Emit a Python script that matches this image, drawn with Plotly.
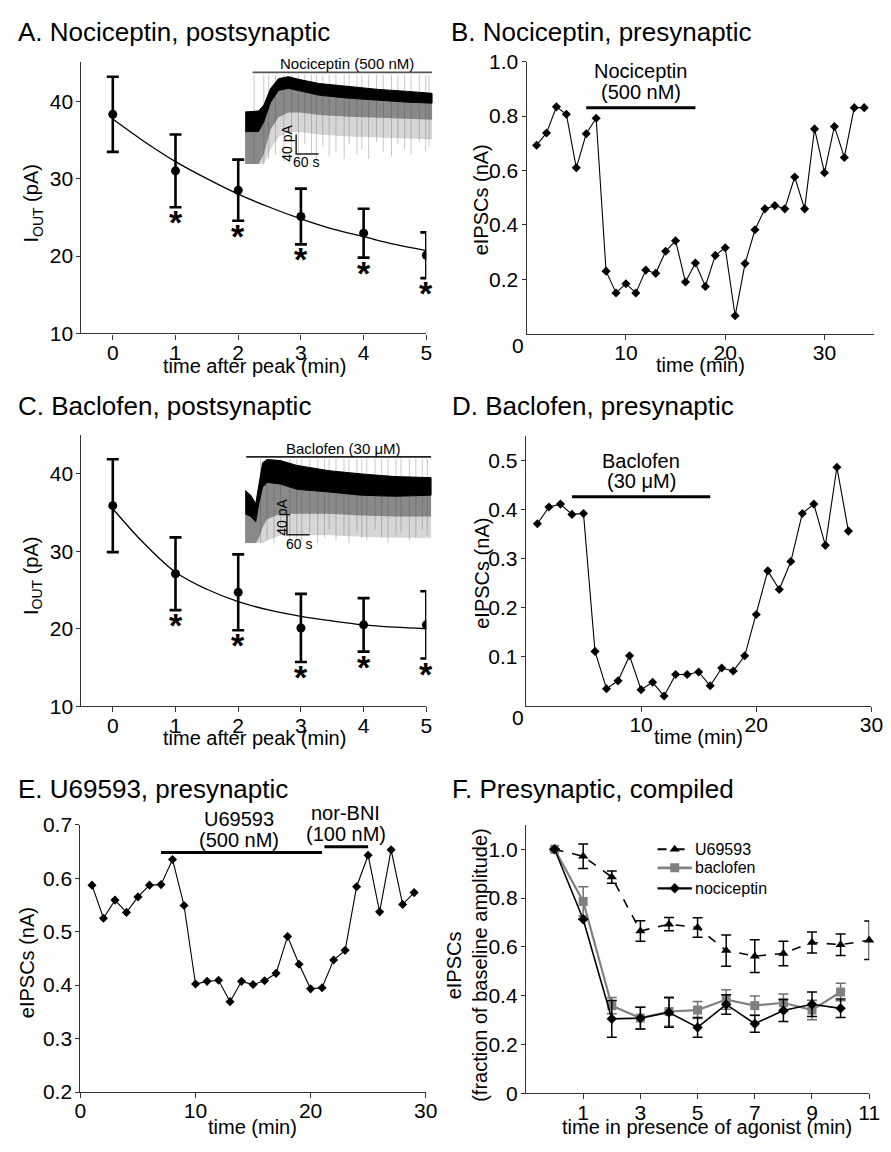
import plotly.graph_objects as go

W, H = 891, 1152
def fx(p): return min(max(p / W, 0), 1)
def fy(p): return min(max(1 - p / H, 0), 1)

FONT = "Liberation Sans, Arial, Helvetica, sans-serif"
AX = "#333333"

# ---------------- data ----------------
post_time = [0, 1, 2, 3, 4, 5]
a_iout = [38.3, 31.0, 28.5, 25.1, 22.95, 20.1]
a_err = [4.85, 4.7, 3.95, 3.6, 3.15, 2.95]
fit_time = [0, 0.5, 1, 1.5, 2, 2.5, 3, 3.5, 4, 4.5, 5]
a_fit = [37.7, 34.8, 32.2, 30.0, 28.0, 26.3, 24.8, 23.5, 22.5, 21.5, 20.7]
c_iout = [35.9, 27.1, 24.7, 20.1, 20.5, 20.5]
c_err = [6.0, 4.7, 4.9, 4.4, 3.45, 4.35]
c_fit = [35.5, 31.0, 27.3, 25.1, 23.5, 22.4, 21.6, 21.0, 20.5, 20.2, 20.0]
star_time = [1, 2, 3, 4, 5]

b_time = list(range(1, 35))
b_ipsc = [0.693, 0.738, 0.834, 0.807, 0.610, 0.735, 0.792, 0.230, 0.150, 0.184,
          0.150, 0.234, 0.222, 0.303, 0.342, 0.190, 0.260, 0.174, 0.288, 0.316,
          0.066, 0.258, 0.382, 0.459, 0.471, 0.459, 0.576, 0.459, 0.753, 0.592,
          0.762, 0.648, 0.831, 0.831]
b_drug = [6, 17]

d_time = list(range(1, 29))
d_ipsc = [0.371, 0.405, 0.411, 0.390, 0.392, 0.111, 0.035, 0.051, 0.102, 0.033,
          0.048, 0.020, 0.064, 0.064, 0.069, 0.041, 0.077, 0.071, 0.102, 0.186,
          0.275, 0.237, 0.294, 0.392, 0.411, 0.327, 0.486, 0.356]
d_drug = [4, 16]

e_time = list(range(1, 30))
e_ipsc = [0.587, 0.525, 0.559, 0.536, 0.565, 0.587, 0.588, 0.635, 0.549, 0.402,
          0.407, 0.409, 0.369, 0.407, 0.401, 0.408, 0.422, 0.491, 0.439, 0.393,
          0.395, 0.447, 0.465, 0.584, 0.643, 0.537, 0.653, 0.551, 0.573]
e_drug1 = [7, 21]
e_drug2 = [21.2, 25]

f_time = list(range(0, 12))
u_mean = [1.0, 0.971, 0.886, 0.665, 0.693, 0.679, 0.585, 0.562, 0.573, 0.618, 0.609, 0.627]
u_err = [0, 0.05, 0.025, 0.042, 0.027, 0.04, 0.064, 0.067, 0.05, 0.043, 0.044, 0.079]
bac_time = list(range(0, 11))
bac_mean = [1.0, 0.786, 0.359, 0.308, 0.335, 0.341, 0.384, 0.359, 0.371, 0.341, 0.415]
bac_err = [0, 0.06, 0.033, 0.045, 0.06, 0.035, 0.04, 0.04, 0.036, 0.04, 0.036]
noc_mean = [1.0, 0.713, 0.305, 0.308, 0.331, 0.270, 0.364, 0.285, 0.339, 0.365, 0.348]
noc_err = [0, 0.0, 0.075, 0.045, 0.06, 0.04, 0.04, 0.035, 0.045, 0.05, 0.038]
f_series = ["U69593", "baclofen", "nociceptin"]

# insets: recorded current traces (time in s, current in pA)
ia_t = [0, 36, 50, 68, 89, 115, 146, 198, 277, 355, 433, 498]
ia_top = [106, 108, 120, 154, 174, 178, 172, 164, 158, 152, 148, 144]
ia_bot = [66, 66, 86, 126, 150, 154, 148, 140, 134, 130, 126, 124]
ia_grey = [0, 0, 20, 70, 95, 105, 105, 100, 96, 94, 92, 90]
ia_spikes = [24, 50, 63, 81, 103, 124, 142, 159, 177, 190, 207, 224, 242, 264, 277,
             298, 311, 329, 350, 368, 390, 407, 425, 442, 464, 481, 490]
ia_depth = [0, 0, 10, 20, 5, 30, 10, 40, 20, 5, 35, 15, 25, 10, 40, 20, 30, 10, 45,
            25, 15, 40, 30, 20, 45, 25, 35]

ic_t = [0, 15, 28, 37, 46, 58, 93, 136, 221, 306, 394, 489]
ic_top = [99, 90, 74, 117, 151, 157, 155, 146, 136, 130, 125, 123]
ic_bot = [55, 50, 40, 77, 105, 114, 111, 101, 96, 90, 88, 90]
ic_grey = [0, 0, 0, 10, 30, 45, 55, 55, 55, 52, 50, 50]
ic_spikes = [41, 58, 76, 93, 118, 136, 149, 170, 191, 209, 221, 239, 260, 273, 294,
             307, 320, 342, 359, 376, 397, 410, 432, 449, 466, 479]
ic_depth = [0, 5, 0, 15, 0, 10, 5, 20, 0, 10, 25, 5, 15, 0, 20, 10, 5, 25, 10, 0,
            15, 20, 5, 10, 25, 15]

fig = go.Figure()

def xaxis_common(**kw):
    d = dict(showline=True, linecolor=AX, linewidth=1.3, ticks="outside", ticklen=5,
             tickwidth=1.2, tickcolor=AX, showgrid=False, zeroline=False, ticklabelstandoff=-5,
             tickfont=dict(size=21, color="black", family=FONT), fixedrange=True)
    d.update(kw)
    return d

def yaxis_common(**kw):
    d = dict(showline=True, linecolor=AX, linewidth=1.3, ticks="outside", ticklen=4,
             tickwidth=1.2, tickcolor=AX, showgrid=False, zeroline=False, ticklabelstandoff=-1,
             tickfont=dict(size=21, color="black", family=FONT), fixedrange=True)
    d.update(kw)
    return d

# A & C
for (xa, ya, mean, err, fit) in [("x", "y", a_iout, a_err, a_fit), ("x3", "y3", c_iout, c_err, c_fit)]:
    fig.add_trace(go.Scatter(x=fit_time, y=fit, mode="lines", line=dict(color="black", width=1.3, shape="spline"),
                             xaxis=xa, yaxis=ya, showlegend=False, hoverinfo="skip"))
    fig.add_trace(go.Scatter(x=post_time, y=mean, mode="markers",
                             marker=dict(color="black", size=9, symbol="circle"),
                             error_y=dict(type="data", array=err, color="black", thickness=2.6, width=6),
                             xaxis=xa, yaxis=ya, showlegend=False))

# B, D, E
for (xa, ya, t, v) in [("x2", "y2", b_time, b_ipsc), ("x4", "y4", d_time, d_ipsc), ("x5", "y5", e_time, e_ipsc)]:
    fig.add_trace(go.Scatter(x=t, y=v, mode="lines+markers", line=dict(color="black", width=1.1),
                             marker=dict(color="black", size=7, symbol="diamond"),
                             xaxis=xa, yaxis=ya, showlegend=False, cliponaxis=False))

for (xa, ya, xs, yv) in [("x2", "y2", b_drug, 0.831), ("x4", "y4", d_drug, 0.426),
                         ("x5", "y5", e_drug1, 0.648), ("x5", "y5", e_drug2, 0.659)]:
    fig.add_trace(go.Scatter(x=xs, y=[yv, yv], mode="lines", line=dict(color="black", width=3),
                             xaxis=xa, yaxis=ya, showlegend=False))

# F
f_styles = [
    dict(color="black", lw=1.6, dash="dash", sym="triangle-up", ms=9, ec="black"),
    dict(color="#808080", lw=2.2, dash="solid", sym="square", ms=9, ec="#707070"),
    dict(color="black", lw=1.6, dash="solid", sym="diamond", ms=8, ec="black"),
]
f_data = [(f_time, u_mean, u_err), (bac_time, bac_mean, bac_err), (bac_time, noc_mean, noc_err)]
for name, (t, m, e), st in zip(f_series, f_data, f_styles):
    fig.add_trace(go.Scatter(x=t, y=m, mode="lines+markers", name=name,
                             line=dict(color=st["color"], width=st["lw"], dash=st["dash"]),
                             marker=dict(color=st["color"], size=st["ms"], symbol=st["sym"]),
                             error_y=dict(type="data", array=e, color=st["ec"], thickness=1.5, width=5),
                             xaxis="x6", yaxis="y6", showlegend=False, cliponaxis=False))
leg_y = [1.0, 0.924, 0.84]
for name, st, ly in zip(f_series, f_styles, leg_y):
    fig.add_trace(go.Scatter(x=[3.6, 4.8], y=[ly, ly], mode="lines",
                             line=dict(color=st["color"], width=st["lw"] + 0.6, dash=st["dash"]),
                             xaxis="x6", yaxis="y6", showlegend=False, hoverinfo="skip"))
    fig.add_trace(go.Scatter(x=[4.2], y=[ly], mode="markers",
                             marker=dict(color=st["color"], size=st["ms"], symbol=st["sym"]),
                             xaxis="x6", yaxis="y6", showlegend=False, hoverinfo="skip"))

# insets
def inset(xa, ya, t, top, bot, grey, spikes, depth, spike_top):
    tr = list(reversed(t))
    sx, sy = [], []
    for s, d in zip(spikes, depth):
        sx += [s, s, None]
        sy += [d, spike_top, None]
    fig.add_trace(go.Scatter(x=sx, y=sy, mode="lines", line=dict(color="#c8c8c8", width=1),
                             xaxis=xa, yaxis=ya, showlegend=False, hoverinfo="skip"))
    low = [max(g - 40, 0) for g in grey]
    fig.add_trace(go.Scatter(x=t + tr, y=bot + list(reversed(low)), fill="toself", mode="none",
                             fillcolor="rgba(90,90,90,0.25)", xaxis=xa, yaxis=ya, showlegend=False, hoverinfo="skip"))
    fig.add_trace(go.Scatter(x=t + tr, y=bot + list(reversed(grey)), fill="toself", mode="none",
                             fillcolor="rgba(60,60,60,0.5)", xaxis=xa, yaxis=ya, showlegend=False, hoverinfo="skip"))
    fig.add_trace(go.Scatter(x=t + tr, y=top + list(reversed(bot)), fill="toself", mode="lines",
                             line=dict(color="black", width=1),
                             fillcolor="black", xaxis=xa, yaxis=ya, showlegend=False, hoverinfo="skip"))

inset("x7", "y7", ia_t, ia_top, ia_bot, ia_grey, ia_spikes, ia_depth, 182)
inset("x8", "y8", ic_t, ic_top, ic_bot, ic_grey, ic_spikes, ic_depth, 158)

fig.add_trace(go.Scatter(x=[20, 498], y=[186.7, 186.7], mode="lines", line=dict(color="#555", width=1.6),
                         xaxis="x7", yaxis="y7", showlegend=False))
fig.add_trace(go.Scatter(x=[136, 136, 196], y=[60, 20, 20], mode="lines", line=dict(color="#222", width=1.5),
                         xaxis="x7", yaxis="y7", showlegend=False))
fig.add_trace(go.Scatter(x=[3, 489], y=[162, 162], mode="lines", line=dict(color="#222", width=1.6),
                         xaxis="x8", yaxis="y8", showlegend=False))
fig.add_trace(go.Scatter(x=[110, 110, 170], y=[56, 16, 16], mode="lines", line=dict(color="#222", width=1.5),
                         xaxis="x8", yaxis="y8", showlegend=False))

lay = dict(
    width=W, height=H, margin=dict(l=0, r=0, t=0, b=0),
    paper_bgcolor="white", plot_bgcolor="rgba(0,0,0,0)",
    font=dict(family=FONT, color="black"),
    showlegend=False,
    xaxis=xaxis_common(domain=[fx(77), fx(429)], range=[-0.5, 5], anchor="y", tickvals=post_time),
    yaxis=yaxis_common(domain=[fy(328), fy(51.5)], range=[10, 45], anchor="x", tickvals=[10, 20, 30, 40]),
    xaxis2=xaxis_common(domain=[fx(531.4), fx(886)], range=[0, 35], anchor="y2", tickvals=[10, 20, 30]),
    yaxis2=yaxis_common(domain=[fy(328.3), fy(50.7)], range=[0, 1.0], anchor="x2",
                        tickvals=[0.2, 0.4, 0.6, 0.8, 1.0], ticktext=["0.2", "0.4", "0.6", "0.8", "1.0"]),
    xaxis3=xaxis_common(domain=[fx(77), fx(429)], range=[-0.5, 5], anchor="y3", tickvals=post_time),
    yaxis3=yaxis_common(domain=[fy(708.3), fy(431.8)], range=[10, 45], anchor="x3", tickvals=[10, 20, 30, 40]),
    xaxis4=xaxis_common(domain=[fx(530.6), fx(883.3)], range=[0, 30], anchor="y4", tickvals=[10, 20, 30]),
    yaxis4=yaxis_common(domain=[fy(708), fy(432.5)], range=[0, 0.55], anchor="x4",
                        tickvals=[0.1, 0.2, 0.3, 0.4, 0.5], ticktext=["0.1", "0.2", "0.3", "0.4", "0.5"]),
    xaxis5=xaxis_common(domain=[fx(76), fx(428.3)], range=[0, 30], anchor="y5", tickvals=[0, 10, 20, 30]),
    yaxis5=yaxis_common(domain=[fy(1102), fy(829.3)], range=[0.2, 0.7], anchor="x5",
                        tickvals=[0.2, 0.3, 0.4, 0.5, 0.6, 0.7], ticktext=["0.2", "0.3", "0.4", "0.5", "0.6", "0.7"]),
    xaxis6=xaxis_common(domain=[fx(530.7), fx(881)], range=[-1, 11], anchor="y6", tickvals=[1, 3, 5, 7, 9, 11]),
    yaxis6=yaxis_common(domain=[fy(1103.3), fy(829.4)], range=[0, 1.1], anchor="x6",
                        tickvals=[0, 0.2, 0.4, 0.6, 0.8, 1.0], ticktext=["0", "0.2", "0.4", "0.6", "0.8", "1.0"]),
    xaxis7=dict(domain=[fx(244), fx(436)], range=[0, 501], anchor="y7", visible=False, fixedrange=True),
    yaxis7=dict(domain=[fy(155), fy(45)], range=[0, 220], anchor="x7", visible=False, fixedrange=True),
    xaxis8=dict(domain=[fx(244), fx(435)], range=[0, 492], anchor="y8", visible=False, fixedrange=True),
    yaxis8=dict(domain=[fy(542), fy(430)], range=[0, 206], anchor="x8", visible=False, fixedrange=True),
)

ann = []
def pa(text, x, y, size=20, angle=0, xanchor="center", yanchor="middle"):
    ann.append(dict(text=text, x=fx(x), y=fy(y), xref="paper", yref="paper", showarrow=False,
                    font=dict(size=size, family=FONT, color="black"), textangle=angle,
                    xanchor=xanchor, yanchor=yanchor))

pa("A. Nociceptin, postsynaptic", 10, 20, size=26, xanchor="left")
pa("B. Nociceptin, presynaptic", 452, 20, size=26, xanchor="left")
pa("C. Baclofen, postsynaptic", 10, 402, size=26, xanchor="left")
pa("D. Baclofen, presynaptic", 453, 402, size=26, xanchor="left")
pa("E. U69593, presynaptic", 10, 793, size=26, xanchor="left")
pa("F. Presynaptic, compiled", 453, 793, size=26, xanchor="left")

pa("I<sub>OUT</sub> (pA)", 27, 195, angle=-90)
pa("time after peak (min)", 254, 361)
pa("eIPSCs (nA)", 485, 192, angle=-90)
pa("time (min)", 709, 360)
pa("I<sub>OUT</sub> (pA)", 27, 575, angle=-90)
pa("time after peak (min)", 254, 741)
pa("eIPSCs (nA)", 485, 573, angle=-90)
pa("time (min)", 707, 740)
pa("eIPSCs (nA)", 21, 970, angle=-90)
pa("time (min)", 252, 1138)
pa("eIPSCs", 457, 973, angle=-90)
pa("(fraction of baseline amplitude)", 483, 973, angle=-90)
pa("time in presence of agonist (min)", 715, 1138)
pa("0", 522.5, 340, size=21)
pa("0", 522.5, 720, size=21)

def da(text, x, y, xr, yr, size=20, angle=0, xanchor="center", yshift=0):
    ann.append(dict(text=text, x=x, y=y, xref=xr, yref=yr, showarrow=False,
                    font=dict(size=size, family=FONT, color="black"), textangle=angle,
                    xanchor=xanchor, yanchor="middle", yshift=yshift))

da("Nociceptin", 11.5, 0.965, "x2", "y2")
da("(500 nM)", 11.5, 0.889, "x2", "y2")
da("Baclofen", 10, 0.498, "x4", "y4")
da("(30 μM)", 10, 0.458, "x4", "y4")
da("U69593", 13.8, 0.7, "x5", "y5", yshift=6)
da("(500 nM)", 13.8, 0.671, "x5", "y5")
da("nor-BNI", 23.05, 0.7, "x5", "y5", yshift=12)
da("(100 nM)", 23.05, 0.683, "x5", "y5")
da("Nociceptin (500 nM)", 272, 205, "x7", "y7", size=15)
da("40 pA", 113, 42, "x7", "y7", size=14, angle=-90)
da("60 s", 162, 4, "x7", "y7", size=14)
da("Baclofen (30 μM)", 260, 177, "x8", "y8", size=15)
da("40 pA", 95, 48, "x8", "y8", size=14, angle=-90)
da("60 s", 141, 0, "x8", "y8", size=14, yshift=-1)
for name, ly in zip(f_series, leg_y):
    da(name, 4.85, ly, "x6", "y6", size=16, xanchor="left")

for (xr, yr, mean, err) in [("x", "y", a_iout, a_err), ("x3", "y3", c_iout, c_err)]:
    for t in star_time:
        ann.append(dict(text="<b>*</b>", x=t, y=mean[t] - err[t], xref=xr, yref=yr, showarrow=False,
                        font=dict(size=34, family=FONT, color="black"), xanchor="center",
                        yanchor="middle", yshift=-15))

lay["annotations"] = ann
fig.update_layout(**lay)
fig.write_html("out.html")
